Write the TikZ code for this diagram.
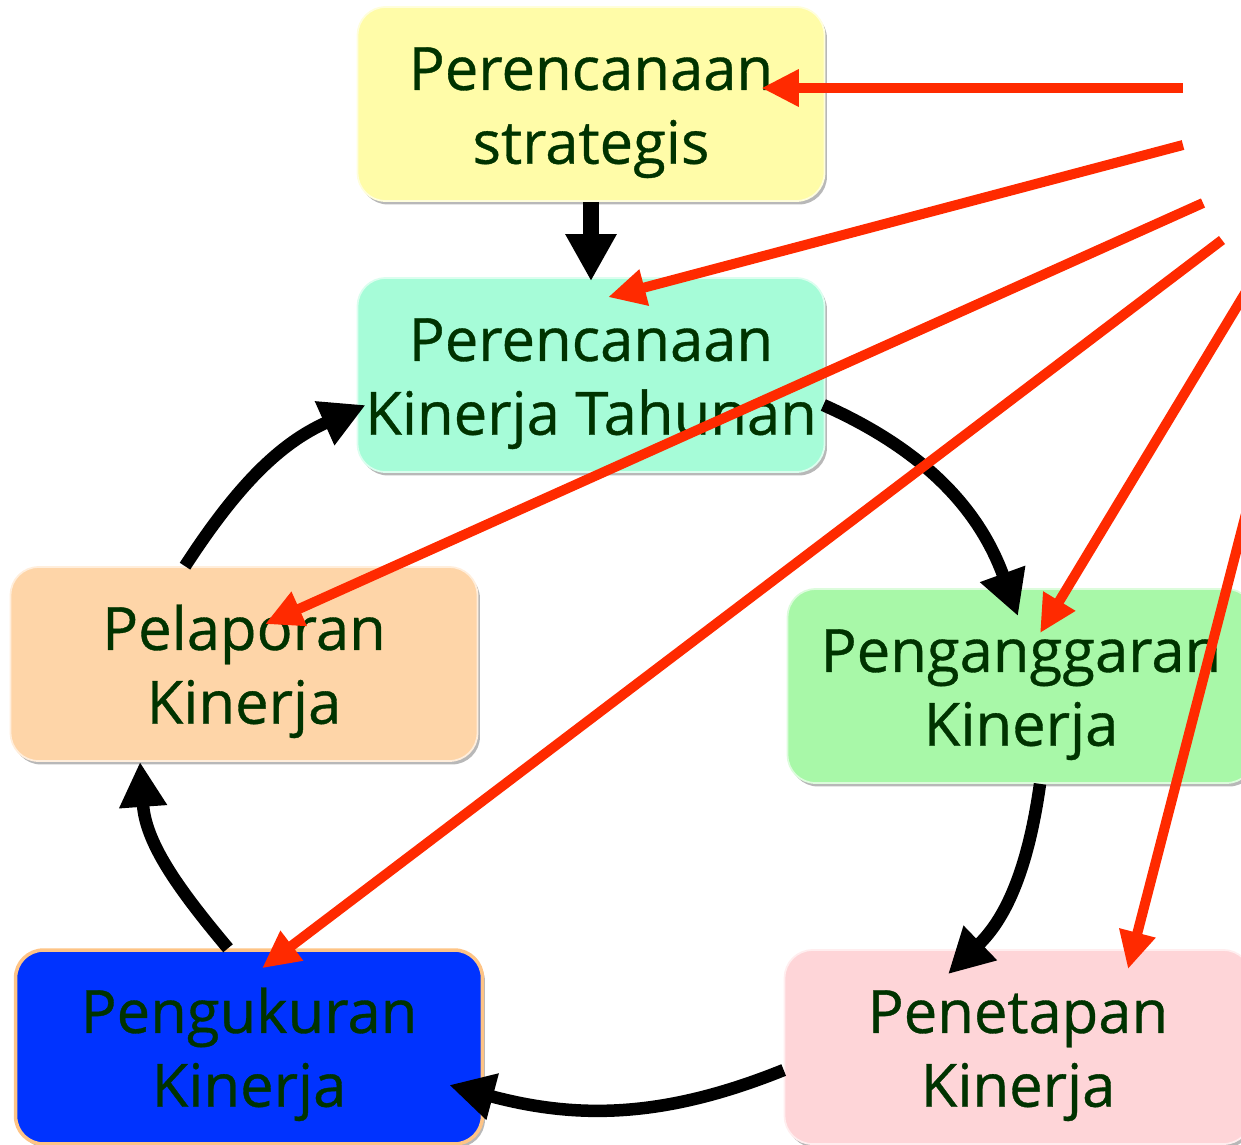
\documentclass[tikz,border=0pt]{standalone}
\usepackage{fontspec}
\setmainfont{Open Sans}[FakeBold=0.6]
\usepackage{xcolor}
\usepackage{tikz}
\usetikzlibrary{arrows.meta, positioning, calc, shadows}
\definecolor{txtgreen}{HTML}{003300}
\definecolor{yellowbox}{HTML}{FFFCA8}
\definecolor{tealbox}{HTML}{A6FCD8}
\definecolor{orangebox}{HTML}{FED5A8}
\definecolor{greenbox}{HTML}{A8F8A8}
\definecolor{bluebox}{HTML}{0033FF}
\definecolor{pinkbox}{HTML}{FED5D8}
\definecolor{feedred}{HTML}{FF2A00}
\newcommand{\topstrut}{\rule{0pt}{1.2cm}}
\tikzset{
  stage/.style={rectangle, rounded corners=0.56cm, draw=white!60!#1, fill=#1, line width=1pt,
                minimum width=9.34cm, minimum height=3.88cm, inner sep=0pt, align=center,
                text=txtgreen, font=\fontsize{34}{42}\selectfont,
                drop shadow={shadow xshift=0.05cm, shadow yshift=-0.07cm, fill=black, opacity=0.28}},
  flow/.style={-{Triangle[length=0.94cm, width=0.96cm]}, line width=0.32cm, black},
  cycle/.style={-{Triangle[length=0.9cm, width=0.9cm]}, line width=0.25cm, black},
  feed/.style={-{Triangle[length=0.75cm, width=0.7cm]}, line width=0.2cm, feedred},
}
\begin{document}
\begin{tikzpicture}[x=0.02cm, y=0.02cm]
  \useasboundingbox (0,0) rectangle (1241,-1144);
  % stages
  \node[stage=yellowbox] (strat)   at (591,-104)  {\topstrut Perencanaan\\strategis};
  \node[stage=tealbox]   (tahunan) at (591,-375)  {\topstrut Perencanaan\\Kinerja Tahunan};
  \node[stage=orangebox] (lapor)   at (244,-664)  {\topstrut Pelaporan\\Kinerja};
  \node[stage=greenbox]  (anggar)  at (1021,-686) {\topstrut Penganggaran\\Kinerja};
  \node[stage=bluebox, draw=orangebox!80!orange, line width=2pt] (ukur) at (249,-1047) {\topstrut Pengukuran\\Kinerja};
  \node[stage=pinkbox]   (tetap)   at (1018,-1047) {\topstrut Penetapan\\Kinerja};

  % cycle
  \draw[flow] (strat.south) -- ($(tahunan.north)+(0,-4)$);
  \draw[cycle] ($(tahunan.east)+(-2,-30)$) to[out=-24, in=110] ($(anggar.north)+(-3,-28)$);
  \draw[cycle] ($(anggar.south)+(19,0)$) to[out=-98, in=44] ($(tetap.north)+(-70,-25)$);
  \draw[cycle] ($(tetap.west)+(0,-23)$) to[out=-158, in=-15] ($(ukur.east)+(-35,-38)$);
  \draw[cycle] ($(ukur.north)+(-21,0)$) to[out=130, in=-86] ($(lapor.south)+(-104,0)$);
  \draw[cycle] ($(lapor.north)+(-59,0)$) to[out=57, in=-156] ($(tahunan.west)+(9,-30)$);

  % links from the right
  \coordinate (src1) at (1183,-88);
  \coordinate (src2) at (1183,-145);
  \coordinate (src3) at (1203,-203);
  \coordinate (src4) at (1222,-240);
  \coordinate (src5) at (1250,-285);
  \coordinate (src6) at (1256,-475);
  \draw[feed] (src1) -- ($(strat.east)+(-64,16)$);
  \draw[feed] (src2) -- ($(tahunan.north)+(17,-20)$);
  \draw[feed] (src3) -- ($(lapor.north)+(21,-58)$);
  \draw[feed] (src4) -- ($(ukur.north)+(13,-20)$);
  \draw[feed] (src5) -- ($(anggar.north)+(19,-45)$);
  \draw[feed] (src6) -- ($(tetap.north)+(110,-20)$);
\end{tikzpicture}
\end{document}
